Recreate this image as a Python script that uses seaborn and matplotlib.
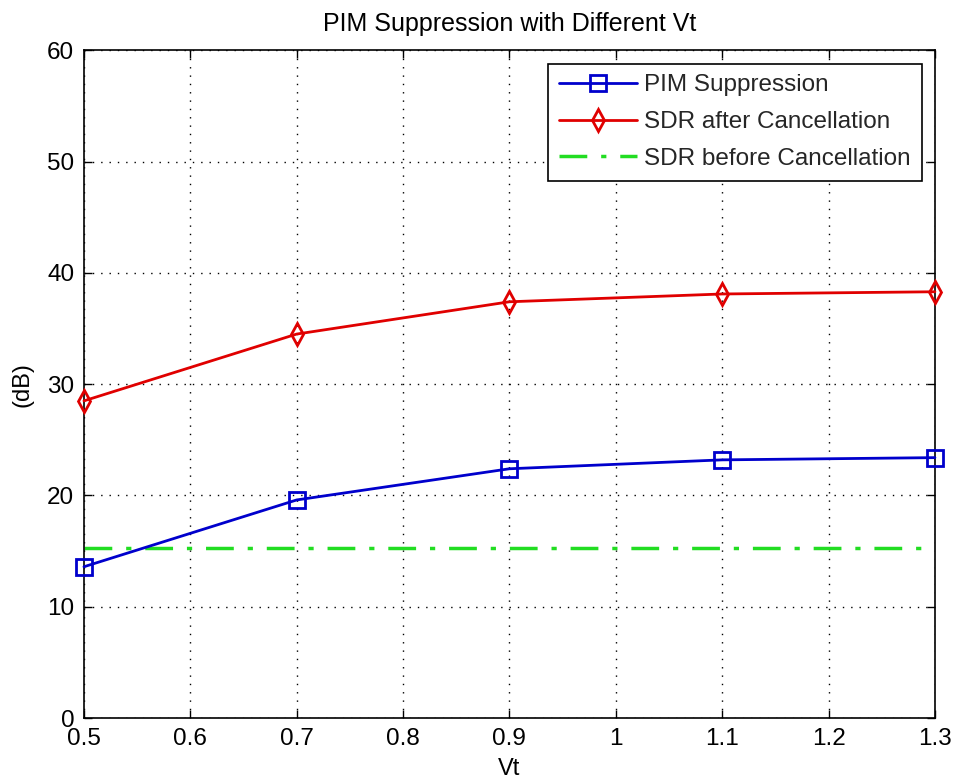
import matplotlib
matplotlib.use("Agg")
import matplotlib.pyplot as plt
import seaborn as sns
import pandas as pd

vt = [0.5, 0.7, 0.9, 1.1, 1.3]
pim_suppression = [13.6, 19.6, 22.4, 23.2, 23.4]
sdr_after = [28.5, 34.5, 37.4, 38.1, 38.3]
sdr_before = [15.3, 15.3, 15.3, 15.3, 15.3]
xticks = [0.5, 0.6, 0.7, 0.8, 0.9, 1.0, 1.1, 1.2, 1.3]
xticklabels = ["0.5", "0.6", "0.7", "0.8", "0.9", "1", "1.1", "1.2", "1.3"]
yticks = [0, 10, 20, 30, 40, 50, 60]

sns.set_theme(style="white")
plt.rcParams['font.family'] = ['Liberation Sans', 'DejaVu Sans']

fig = plt.figure(figsize=(9.54, 7.84), dpi=100)
ax = fig.add_axes([0.088, 0.084, 0.892, 0.852])

df = pd.DataFrame({"Vt": vt, "pim": pim_suppression, "after": sdr_after, "before": sdr_before})

sns.lineplot(data=df, x="Vt", y="pim", ax=ax, color="#0000cc", linewidth=2.0,
             marker="s", markersize=11, markerfacecolor="none", markeredgecolor="#0000cc",
             markeredgewidth=2, label="PIM Suppression", clip_on=False, zorder=5)
sns.lineplot(data=df, x="Vt", y="after", ax=ax, color="#e00000", linewidth=2.0,
             marker="d", markersize=11, markerfacecolor="none", markeredgecolor="#e00000",
             markeredgewidth=2, label="SDR after Cancellation", clip_on=False, zorder=5)
sns.lineplot(data=df, x="Vt", y="before", ax=ax, color="#22dd22", linewidth=2.5,
             linestyle=(0, (8, 4, 1.5, 4)), label="SDR before Cancellation")

ax.set_xlim(0.5, 1.3)
ax.set_ylim(0, 60)
ax.set_xticks(xticks)
ax.set_xticklabels(xticklabels)
ax.set_yticks(yticks)
ax.grid(True, color="black", linestyle=(0, (1, 5)), linewidth=1.0)
ax.tick_params(direction="in", length=6, width=1, colors="black", labelsize=17.5,
               top=True, right=True, bottom=True, left=True, pad=7)
for s in ax.spines.values():
    s.set_color("black")
    s.set_linewidth(1.2)
ax.set_xlabel("Vt", fontsize=17, color="black", labelpad=6)
ax.set_ylabel("(dB)", fontsize=17, color="black", labelpad=10)
ax.set_title("PIM Suppression with Different Vt", fontsize=18, color="black", pad=14)

leg = ax.legend(loc="upper right", fontsize=17.5, frameon=True, fancybox=False,
                edgecolor="black", framealpha=1, handlelength=3.2, handletextpad=0.3,
                borderaxespad=0.55, borderpad=0.45, labelspacing=0.6)
leg.get_frame().set_linewidth(1.2)

fig.savefig("out.png", dpi=100)
